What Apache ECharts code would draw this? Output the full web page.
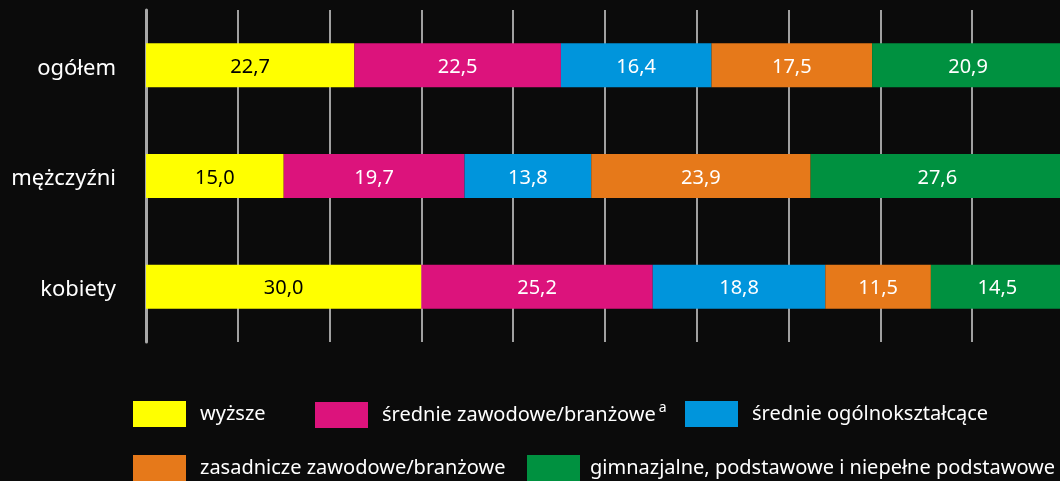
<!DOCTYPE html>
<html>
<head>
<meta charset="utf-8">
<script src="https://cdn.jsdelivr.net/npm/echarts@6/dist/echarts.min.js"></script>
<style>
html, body { margin: 0; padding: 0; background: #0b0b0b; overflow: hidden; }
#chart { width: 1068px; height: 481px; }
</style>
</head>
<body>
<div id="chart"></div>
<script>
var categories = ['ogółem', 'mężczyźni', 'kobiety'];
var seriesNames = ['wyższe', 'średnie zawodowe/branżowe', 'średnie ogólnokształcące', 'zasadnicze zawodowe/branżowe', 'gimnazjalne, podstawowe i niepełne podstawowe'];
var wyzsze = [22.7, 15.0, 30.0];
var srednieZawodowe = [22.5, 19.7, 25.2];
var srednieOgolne = [16.4, 13.8, 18.8];
var zasadnicze = [17.5, 23.9, 11.5];
var gimnazjalne = [20.9, 27.6, 14.5];
var colors = ['#ffff00', '#dc137c', '#0095dc', '#e6791a', '#009140'];
var labelColors = ['#000000', '#ffffff', '#ffffff', '#ffffff', '#ffffff'];

var values = [wyzsze, srednieZawodowe, srednieOgolne, zasadnicze, gimnazjalne];
var font = '"Noto Sans", sans-serif';

//serie słupków
var series = [];
for (var i = 0; i < values.length; i++) {
	series.push({
		name: seriesNames[i],
		type: 'bar',
		stack: 'all',
		data: values[i],
		barWidth: 44,
		itemStyle: { color: colors[i] },
		label: {
			show: true,
			position: 'inside',
			offset: [0, 2],
			color: labelColors[i],
			fontSize: 20,
			fontFamily: font,
			formatter: function(p) {
				return p.value.toFixed(1).replace('.', ',');
			}
		}
	});
}

//legenda - każda pozycja osobno
var legendPos = [[133, 401], [315, 401], [685, 401], [133, 455], [527, 455]];
var legendTextPad = [9, 9, 9, 9, 5];
var legends = [];
for (var j = 0; j < seriesNames.length; j++) {
	legends.push({
		data: [seriesNames[j]],
		left: legendPos[j][0],
		top: legendPos[j][1],
		padding: 0,
		itemWidth: 53,
		itemHeight: 26,
		icon: 'rect',
		selectedMode: false,
		textStyle: {
			color: '#ffffff',
			fontSize: 20,
			fontFamily: font,
			padding: [0, 0, 0, legendTextPad[j]],
			rich: {
				sup: { color: '#ffffff', fontSize: 14, verticalAlign: 'top', padding: [0, 0, 14, 3], fontFamily: font }
			}
		},
		formatter: j == 1 ? function(n) { return n + '{sup|a}'; } : '{name}'
	});
}

var option = {
	backgroundColor: '#0b0b0b',
	animation: false,
	legend: legends,
	grid: {
		left: 146,
		right: 4,
		top: 10,
		bottom: 139
	},
	xAxis: {
		type: 'value',
		min: 0,
		max: 100,
		interval: 10,
		axisLine: { show: false },
		axisTick: { show: false },
		axisLabel: { show: false },
		splitLine: {
			lineStyle: { color: '#a0a0a0', width: 2 }
		}
	},
	yAxis: {
		type: 'category',
		data: categories,
		inverse: true,
		axisLine: {
			lineStyle: { color: '#a8a8a8', width: 3 }
		},
		axisTick: { show: false },
		axisLabel: {
			margin: 30,
			formatter: function(v) { return '{c|' + v + '}'; },
			rich: {
				c: { color: '#ffffff', fontSize: 22, fontFamily: font, padding: [6, 0, 0, 0] }
			}
		}
	},
	series: series
};

var chart = echarts.init(document.getElementById('chart'));
chart.setOption(option);
</script>
</body>
</html>
